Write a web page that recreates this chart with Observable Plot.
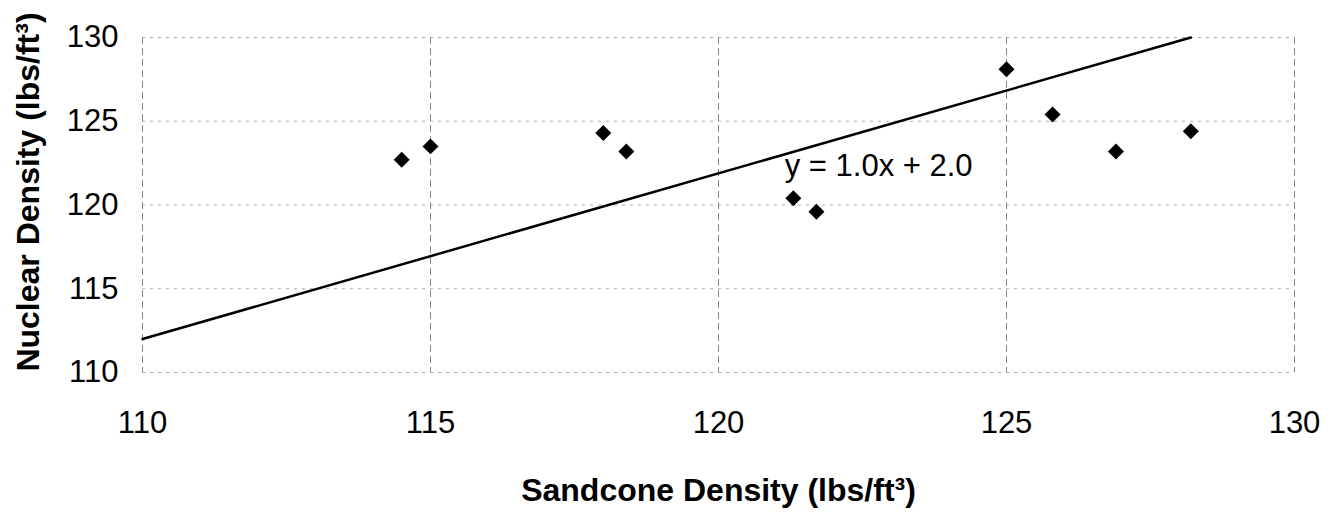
<!DOCTYPE html>
<html>
<head>
<meta charset="utf-8">
<script src="https://cdn.jsdelivr.net/npm/d3@7"></script>
<script src="https://cdn.jsdelivr.net/npm/@observablehq/plot@0.6"></script>
<style>
  html, body { margin: 0; padding: 0; background: #fff; }
</style>
</head>
<body>
<div id="chart"></div>
<script>
// Data
const sandcone = [114.5, 115.0, 118.0, 118.4, 121.3, 121.7, 125.0, 125.8, 126.9, 128.2];
const nuclear  = [122.7, 123.5, 124.3, 123.2, 120.4, 119.6, 128.1, 125.4, 123.2, 124.4];
const xTicks = [110, 115, 120, 125, 130];
const yTicks = [110, 115, 120, 125, 130];
const trendX = [110, 128.2];
const trendY = [112.0, 130.0];
const equation = "y = 1.0x + 2.0";
const xTitle = "Sandcone Density (lbs/ft³)";
const yTitle = "Nuclear Density (lbs/ft³)";

const points = sandcone.map((x, i) => ({x, y: nuclear[i]}));
const trend = trendX.map((x, i) => ({x, y: trendY[i]}));

const chart = Plot.plot({
  width: 1337,
  height: 518,
  marginLeft: 142,
  marginRight: 43,
  marginTop: 37,
  marginBottom: 146,
  style: {fontFamily: "'Liberation Sans', Arial, sans-serif", fontSize: "31px", color: "#000", background: "#fff"},
  x: {domain: [110, 130], ticks: xTicks, tickSize: 0, tickPadding: 38, label: null, tickFormat: d => String(d)},
  y: {domain: [110, 130], ticks: yTicks, tickSize: 0, tickPadding: 24, label: null, tickFormat: d => String(d)},
  marks: [
    Plot.ruleY(yTicks, {y: d => d, stroke: "#aaa", strokeWidth: 1, strokeDasharray: "3,5"}),
    Plot.ruleX(xTicks, {x: d => d, stroke: "#888", strokeWidth: 1, strokeDasharray: "7,4"}),
    Plot.line(trend, {x: "x", y: "y", stroke: "#000", strokeWidth: 2.5}),
    Plot.dot(points, {x: "x", y: "y", symbol: "diamond2", r: 7.2, fill: "#000", stroke: "none"}),
    Plot.text([equation], {x: () => 121.15, y: () => 122.3, text: d => d, textAnchor: "start", fontSize: 31, fill: "#000"}),
    Plot.text([xTitle], {frameAnchor: "bottom", dy: 128, text: d => d, textAnchor: "middle", fontSize: 32, fontWeight: "bold", fill: "#000"}),
    Plot.text([yTitle], {frameAnchor: "left", dx: -114, dy: -13, rotate: -90, text: d => d, textAnchor: "middle", fontSize: 32, fontWeight: "bold", fill: "#000"})
  ]
});
document.getElementById("chart").appendChild(chart);
</script>
</body>
</html>
